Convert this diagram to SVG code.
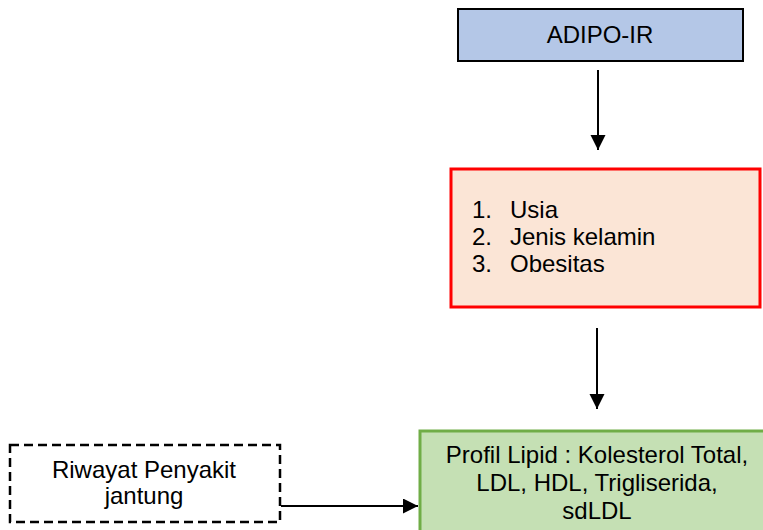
<svg xmlns="http://www.w3.org/2000/svg" width="763" height="530" viewBox="0 0 763 530">
<style>
text{font-family:"Liberation Sans",Arial,sans-serif;font-size:24px;fill:#000}
.c{text-anchor:middle}
.conn{stroke:#000;stroke-width:2;fill:none}
</style>
<defs>
<marker id="ah" markerUnits="userSpaceOnUse" markerWidth="16" markerHeight="16" viewBox="0 0 16 16" refX="15" refY="7.5" orient="auto">
<path d="M0,0 L15,7.5 L0,15 Z" fill="#000"/>
</marker>
</defs>
<rect width="763" height="530" fill="#fff"/>
<g id="adipo">
<rect x="458" y="9" width="285" height="52" fill="#b4c7e7" stroke="#000" stroke-width="2"/>
<text class="c" x="600" y="43">ADIPO-IR</text>
</g>
<g id="faktor">
<rect x="451" y="169" width="309" height="138" fill="#fbe5d6" stroke="#ff0000" stroke-width="3"/>
<text x="472" y="218">1.</text><text x="510" y="218">Usia</text>
<text x="472" y="245">2.</text><text x="510" y="245">Jenis kelamin</text>
<text x="472" y="272">3.</text><text x="510" y="272">Obesitas</text>
</g>
<g id="profil">
<rect x="420" y="431" width="348" height="110" fill="#c5e0b4" stroke="#70ad47" stroke-width="3"/>
<text class="c" x="597" y="463">Profil Lipid : Kolesterol Total,</text>
<text class="c" x="597" y="491">LDL, HDL, Trigliserida,</text>
<text class="c" x="597" y="519">sdLDL</text>
</g>
<g id="riwayat">
<rect x="10" y="445" width="270" height="77" fill="#fff" stroke="#000" stroke-width="2.5" stroke-dasharray="9,5"/>
<text class="c" x="144" y="478">Riwayat Penyakit</text>
<text class="c" x="144" y="504">jantung</text>
</g>
<g id="connectors">
<line class="conn" x1="598" y1="70" x2="598" y2="150" marker-end="url(#ah)"/>
<line class="conn" x1="597" y1="328" x2="597" y2="409" marker-end="url(#ah)"/>
<line class="conn" x1="281" y1="506" x2="418" y2="506" marker-end="url(#ah)"/>
</g>
</svg>
